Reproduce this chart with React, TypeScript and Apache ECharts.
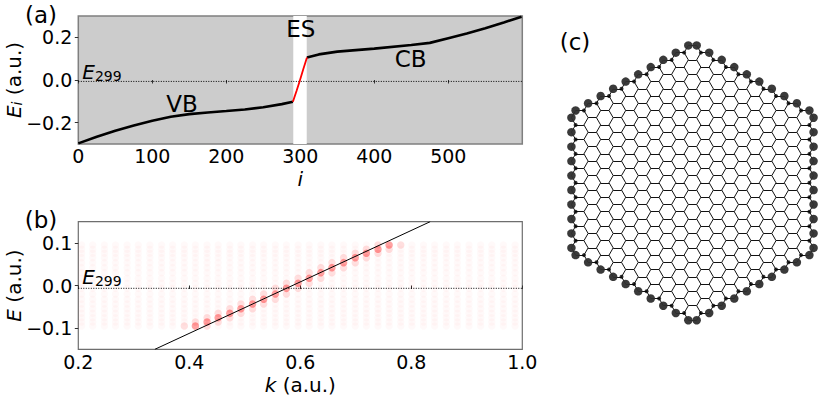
import React, { useEffect, useRef } from "react";
import * as echarts from "echarts";

const FONT = "DejaVu Sans";

// Panel (a)
const vbCurve: [number, number][] = [[0, -0.297], [25, -0.266], [50, -0.238], [75, -0.213], [100, -0.191], [125, -0.172], [150, -0.16], [175, -0.152], [200, -0.1455], [225, -0.138], [250, -0.128], [275, -0.113], [290, -0.102]];
const esCurve: [number, number][] = [[290, -0.102], [295, -0.05], [299, -0.0066], [304, 0.05], [309, 0.105]];
const cbCurve: [number, number][] = [[309, 0.105], [325, 0.12], [350, 0.133], [400, 0.147], [450, 0.164], [475, 0.174], [500, 0.196], [525, 0.218], [550, 0.243], [575, 0.27], [599, 0.297]];
const aXTicks = [0, 100, 200, 300, 400, 500];
const aYTicks = [-0.2, 0, 0.2];
const esBand = [290.5, 308.7];
const fermi = -0.0066;

// Panel (b)
const bXTicks = [0.2, 0.4, 0.6, 0.8, 1.0];
const bYTicks = [-0.1, 0, 0.1];
const kValues = [0.206, 0.226, 0.247, 0.267, 0.288, 0.308, 0.329, 0.35, 0.37, 0.391, 0.411, 0.432, 0.452, 0.473, 0.493, 0.514, 0.534, 0.555, 0.575, 0.596, 0.616, 0.637, 0.657, 0.678, 0.699, 0.719, 0.74, 0.76, 0.781, 0.801, 0.822, 0.842, 0.863, 0.883, 0.904, 0.925, 0.945, 0.966, 0.987];
const levels = [-0.0953, -0.0859, -0.0757, -0.0655, -0.0545, -0.0435, -0.0325, -0.02, -0.0067, 0.0051, 0.0169, 0.0302, 0.042, 0.0537, 0.0655, 0.0757, 0.0851, 0.0953];
// column index in kValues of the strongest dot on each level, level by level
const strongColumn = [10, 11, 12, 13, 14, 15, 16, 17, 18, 19, 20, 21, 22, 23, 24, 25, 26, 27];
const dispersion: [number, number][] = [[0.338, -0.15], [0.834, 0.15]];

// Panel (c)
const RINGS = 10; // zigzag hexagonal flake with 600 atoms

function flake() {
  const s3 = Math.sqrt(3);
  const atoms = new Map<string, { x: number; y: number; n: Set<string> }>();
  const key = (x: number, y: number) => `${Math.round(x * 100)},${Math.round(y * 100)}`;
  for (let q = -RINGS + 1; q < RINGS; q++) {
    for (let r = -RINGS + 1; r < RINGS; r++) {
      if (Math.abs(q + r) >= RINGS) continue;
      const cx = 1.5 * q;
      const cy = s3 * (r + q / 2);
      const vs: string[] = [];
      for (let t = 0; t < 6; t++) {
        const x = cx + Math.cos((t * Math.PI) / 3);
        const y = cy + Math.sin((t * Math.PI) / 3);
        const k = key(x, y);
        if (!atoms.has(k)) atoms.set(k, { x, y, n: new Set() });
        vs.push(k);
      }
      for (let t = 0; t < 6; t++) {
        const a = vs[t];
        const b = vs[(t + 1) % 6];
        atoms.get(a)!.n.add(b);
        atoms.get(b)!.n.add(a);
      }
    }
  }
  const bonds: { coords: number[][] }[] = [];
  const big: number[][] = [];
  const small: number[][] = [];
  const hexCount = new Map<string, number>();
  atoms.forEach((a, k) => {
    a.n.forEach((o) => {
      if (k < o) {
        const b = atoms.get(o)!;
        bonds.push({ coords: [[a.x, a.y], [b.x, b.y]] });
      }
    });
    if (a.n.size === 2) big.push([a.x, a.y]);
    hexCount.set(k, a.n.size);
  });
  atoms.forEach((a) => {
    if (a.n.size === 3) {
      let edge = false;
      a.n.forEach((o) => {
        if (hexCount.get(o) === 2) edge = true;
      });
      if (edge) small.push([a.x, a.y]);
    }
  });
  return { bonds, big, small };
}

const minusFmt = (d: number) => (v: number) => (v < 0 ? "\u2212" : "") + Math.abs(v).toFixed(d);

function panelAxis(extra: any) {
  return {
    axisLine: { show: false },
    splitLine: { show: false },
    nameMoveOverlap: false,
    ...extra,
  };
}

const tickStyle = { length: 3.5, lineStyle: { color: "#333", width: 1 } };
const labelStyle = { fontFamily: FONT, fontSize: 19, color: "#000", lineHeight: 16 };
const nameRich = {
  e: { fontFamily: FONT, fontSize: 20, fontStyle: "italic", color: "#000" },
  s: { fontFamily: FONT, fontSize: 14, fontStyle: "italic", color: "#000", padding: [6, 0, 0, 0] },
  n: { fontFamily: FONT, fontSize: 20, color: "#000" },
};
const xNameRich = {
  e: { fontFamily: FONT, fontSize: 20, fontStyle: "italic", color: "#000", lineHeight: 16 },
  n: { fontFamily: FONT, fontSize: 20, color: "#000", lineHeight: 16 },
};

function plainText(text: string, x: number, y: number, fontSize: number) {
  return {
    type: "text",
    x,
    y,
    z: 100,
    silent: true,
    style: { text, fontFamily: FONT, fontSize, fill: "#000", align: "center", verticalAlign: "middle" },
  };
}
function fermiText(x: number, y: number) {
  return {
    type: "text",
    x,
    y,
    z: 100,
    silent: true,
    style: {
      text: "{e|E}{s|299}",
      align: "center",
      verticalAlign: "middle",
      rich: {
        e: { fontFamily: FONT, fontSize: 20, fontStyle: "italic", fill: "#000" },
        s: { fontFamily: FONT, fontSize: 14, fill: "#000", padding: [7, 0, 0, 0] },
      },
    },
  };
}

export default function App() {
  const ref = useRef<HTMLDivElement>(null);
  useEffect(() => {
    const chart = echarts.init(ref.current!, undefined, { renderer: "svg" });
    const { bonds, big, small } = flake();
    const baseDots: number[][] = [];
    kValues.forEach((k) => levels.forEach((e) => baseDots.push([k, e])));
    const strongDots: number[][] = [];
    const weakDots: number[][] = [];
    levels.forEach((e, l) => {
      const c = strongColumn[l];
      strongDots.push([kValues[c], e]);
      weakDots.push([kValues[c - 1], e]);
      weakDots.push([kValues[c + 1], e]);
    });
    chart.setOption({
      animation: false,
      backgroundColor: "#fff",
      grid: [
        { left: 78.3, top: 16, width: 444, height: 128, show: true, backgroundColor: "#cccccc", borderColor: "#7f7f7f", borderWidth: 1.5, outerBoundsMode: "none" },
        { left: 78.3, top: 221.7, width: 444, height: 127.6, show: true, backgroundColor: "#fff", borderColor: "#6e6e6e", borderWidth: 1.2, outerBoundsMode: "none" },
        { left: 562.5, top: 32.8, width: 260, height: 300, show: false, outerBoundsMode: "none" },
      ],
      xAxis: [
        panelAxis({
          type: "value", gridIndex: 0, min: 0, max: 600,
          name: "{e|i}", nameLocation: "middle", nameGap: 27, nameTextStyle: { rich: xNameRich },
          axisTick: { ...tickStyle, customValues: aXTicks },
          axisLabel: { ...labelStyle, margin: 4, customValues: aXTicks },
        }),
        panelAxis({
          type: "value", gridIndex: 1, min: 0.2, max: 1,
          name: "{e|k}{n| (a.u.)}", nameLocation: "middle", nameGap: 28, nameTextStyle: { rich: xNameRich },
          axisTick: { ...tickStyle, customValues: bXTicks },
          axisLabel: { ...labelStyle, margin: 5, customValues: bXTicks, formatter: minusFmt(1) },
        }),
        { type: "value", gridIndex: 2, min: -130 / 8.35, max: 130 / 8.35, show: false },
      ],
      yAxis: [
        panelAxis({
          type: "value", gridIndex: 0, min: -0.3, max: 0.3,
          name: "{e|E}{s|i}{n| (a.u.)}", nameLocation: "middle", nameGap: 54, nameTextStyle: { rich: nameRich },
          axisTick: { ...tickStyle, customValues: aYTicks },
          axisLabel: { ...labelStyle, margin: 6, customValues: aYTicks, formatter: minusFmt(1) },
        }),
        panelAxis({
          type: "value", gridIndex: 1, min: -0.15, max: 0.15,
          name: "{e|E}{n| (a.u.)}", nameLocation: "middle", nameGap: 54, nameTextStyle: { rich: nameRich },
          axisTick: { ...tickStyle, customValues: bYTicks },
          axisLabel: { ...labelStyle, margin: 6, customValues: bYTicks, formatter: minusFmt(1) },
        }),
        { type: "value", gridIndex: 2, min: -150 / 8.35, max: 150 / 8.35, show: false },
      ],
      series: [
        {
          type: "line", xAxisIndex: 0, yAxisIndex: 0, data: vbCurve, showSymbol: false, silent: true,
          lineStyle: { color: "#000", width: 2.6 }, z: 4,
          markArea: {
            silent: true, itemStyle: { color: "#fff" },
            data: [[{ xAxis: esBand[0] }, { xAxis: esBand[1] }]],
            z: 1,
          },
        },
        { type: "line", xAxisIndex: 0, yAxisIndex: 0, data: cbCurve, showSymbol: false, silent: true, lineStyle: { color: "#000", width: 2.6 }, z: 4 },
        { type: "line", xAxisIndex: 0, yAxisIndex: 0, data: esCurve, showSymbol: false, silent: true, lineStyle: { color: "#f00", width: 1.8 }, z: 5 },
        {
          type: "line", xAxisIndex: 0, yAxisIndex: 0, data: [[0, fermi], [600, fermi]], showSymbol: false, silent: true,
          lineStyle: { color: "#000", width: 1, type: [1, 1.5] }, z: 3,
        },
        { type: "scatter", xAxisIndex: 1, yAxisIndex: 1, data: baseDots, symbolSize: 7.5, silent: true, itemStyle: { color: "#ff0000", opacity: 0.025 }, z: 2 },
        { type: "scatter", xAxisIndex: 1, yAxisIndex: 1, data: weakDots, symbolSize: 7.5, silent: true, itemStyle: { color: "#ff0000", opacity: 0.1 }, z: 3 },
        { type: "scatter", xAxisIndex: 1, yAxisIndex: 1, data: strongDots, symbolSize: 7.5, silent: true, itemStyle: { color: "#ff0000", opacity: 0.35 }, z: 3 },
        { type: "line", xAxisIndex: 1, yAxisIndex: 1, data: [[0.2, fermi], [1, fermi]], showSymbol: false, silent: true, lineStyle: { color: "#000", width: 1, type: [1, 1.5] }, z: 4 },
        { type: "line", xAxisIndex: 1, yAxisIndex: 1, data: dispersion, showSymbol: false, silent: true, lineStyle: { color: "#000", width: 1 }, z: 5 },
        { type: "lines", coordinateSystem: "cartesian2d", xAxisIndex: 2, yAxisIndex: 2, data: bonds, silent: true, lineStyle: { color: "#111", width: 1, opacity: 1 }, z: 2 },
        { type: "scatter", xAxisIndex: 2, yAxisIndex: 2, data: small, symbolSize: 4, silent: true, itemStyle: { color: "#000" }, z: 3 },
        { type: "scatter", xAxisIndex: 2, yAxisIndex: 2, data: big, symbolSize: 8.5, silent: true, itemStyle: { color: "#2f2f2f", opacity: 0.95 }, z: 3 },
      ],
      graphic: [
        plainText("(a)", 41, 15, 23),
        plainText("(b)", 41, 220, 23),
        plainText("(c)", 575, 42, 23),
        plainText("VB", 182, 104, 23),
        plainText("ES", 300.7, 29, 23),
        plainText("CB", 410.7, 59, 23),
        fermiText(102, 72),
        fermiText(102, 277),
      ],
    });
    return () => chart.dispose();
  }, []);
  return <div ref={ref} style={{ position: "absolute", left: 0, top: 0, width: 830, height: 399 }} />;
}
